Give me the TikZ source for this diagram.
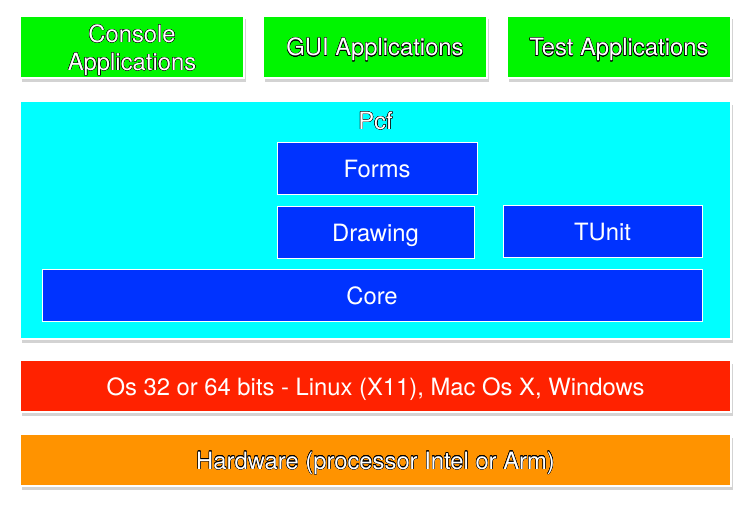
\documentclass[tikz,border=0pt]{standalone}
\usepackage{fontspec}
\setmainfont{TeX Gyre Heros}
\usepackage{contour}
\contourlength{0.35pt}
\contournumber{16}
\usetikzlibrary{shadows}
\definecolor{appgreen}{RGB}{0,245,0}
\definecolor{pcfcyan}{RGB}{0,255,255}
\definecolor{pcfblue}{RGB}{0,51,255}
\definecolor{osred}{RGB}{255,34,0}
\definecolor{hworange}{RGB}{255,147,0}
\newcommand{\outlined}[1]{\contour{black}{\textcolor{white}{#1}}}

\begin{document}
\begin{tikzpicture}[x=1pt,y=-1pt,
	layer/.style={draw=white,line width=1.2pt,inner sep=0pt,align=center,
		font=\fontsize{23.8}{28}\selectfont,text=white,text height=18pt,text depth=0pt,
		drop shadow={opacity=0.35,shadow xshift=1.5pt,shadow yshift=-3.5pt}},
	module/.style={draw=white,line width=1pt,inner sep=0pt,fill=pcfblue,
		font=\fontsize{23.8}{28}\selectfont,text=white,text height=18pt,text depth=0pt,
		minimum height=52pt}]
	\useasboundingbox (0,0) rectangle (751,511);
	% applications
	\node[layer,fill=appgreen,minimum width=224pt,minimum height=62pt,text height=47pt] (console) at (132,47) {\outlined{Console}\\\outlined{Applications}};
	\node[layer,fill=appgreen,minimum width=224pt,minimum height=62pt] (gui) at (375,47) {\outlined{GUI Applications}};
	\node[layer,fill=appgreen,minimum width=224pt,minimum height=62pt] (test) at (619,47) {\outlined{Test Applications}};
	% framework
	\node[layer,fill=pcfcyan,minimum width=711pt,minimum height=238pt] (pcf) at (375.5,220) {};
	\node[font=\fontsize{23.8}{28}\selectfont,inner sep=0pt] (pcflabel) at (375.5,121) {\outlined{Pcf}};
	\node[module,minimum width=200pt] (forms) at (377,168) {Forms};
	\node[module,minimum width=197pt] (drawing) at (375.5,232) {Drawing};
	\node[module,minimum width=199pt] (tunit) at (602.5,231) {TUnit};
	\node[module,minimum width=660pt] (core) at (372,295) {Core};
	% system
	\node[layer,fill=osred,minimum width=711pt,minimum height=52pt] (os) at (375.5,386) {Os 32 or 64 bits - Linux (X11), Mac Os X, Windows};
	\node[layer,fill=hworange,minimum width=711pt,minimum height=52pt] (hardware) at (375.5,460) {\outlined{Hardware (processor Intel or Arm)}};
\end{tikzpicture}
\end{document}
